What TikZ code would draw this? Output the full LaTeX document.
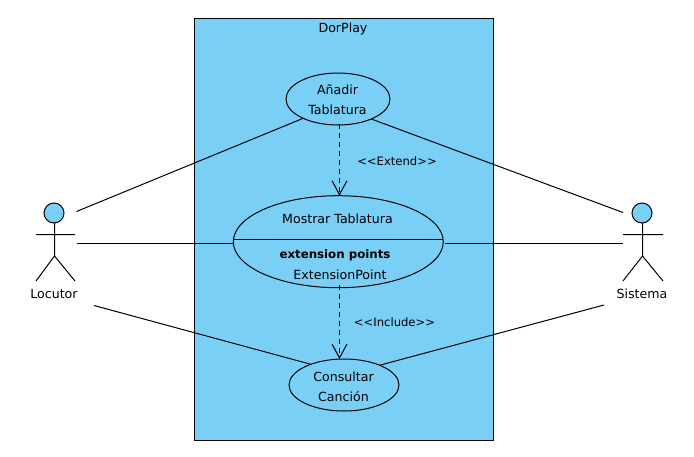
\documentclass[tikz,border=0pt]{standalone}
\usepackage{fontspec}
\setmainfont{DejaVu Sans}
\usetikzlibrary{shapes.geometric,arrows.meta}
\definecolor{ucblue}{RGB}{122,207,247}
\tikzset{
  canvas/.style={x=1pt,y=-1pt},
  sysbox/.style={draw=black,fill=ucblue,line width=1pt},
  usecase/.style={ellipse,draw=black,line width=1pt,inner sep=0pt,outer sep=0pt,align=center,font=\fontsize{12.6}{20}\selectfont},
  lbl/.style={inner sep=0pt,outer sep=0pt,align=center,font=\fontsize{12.6}{20}\selectfont},
  stereo/.style={inner sep=0pt,outer sep=0pt,font=\fontsize{11.6}{20}\selectfont},
  assoc/.style={draw=black,line width=1pt},
  dep/.style={draw=black,line width=1.2pt,dash pattern=on 5pt off 4pt,-{Straight Barb[length=14pt,width=15pt,line width=1pt]}},
  limb/.style={draw=black,line width=1pt},
  head/.style={circle,draw=black,fill=ucblue,line width=1pt,minimum size=20pt,inner sep=0pt,outer sep=0pt}
}
\begin{document}
\begin{tikzpicture}[canvas]
\useasboundingbox (0,0) rectangle (694,456);
\fill[white] (0,0) rectangle (694,456);
\node[sysbox,rectangle,minimum width=299pt,minimum height=422pt,inner sep=0pt,outer sep=0pt] (sys) at (344,229.5) {};
\node[lbl] (sysname) at (343,29.5) {DorPlay};
% use cases
\node[usecase,minimum width=104pt,minimum height=52pt] (uc1) at (338,99) {};
\node[lbl] (uc1t) at (337.5,100) {Añadir\\Tablatura};
\node[usecase,minimum width=210pt,minimum height=92pt] (uc2) at (338.3,241.7) {};
\node[usecase,minimum width=110pt,minimum height=52pt] (uc3) at (344,385) {};
\node[lbl] (uc3t) at (343.5,386.5) {Consultar\\Canción};
\draw[limb] ([yshift=2.2pt]uc2.west) -- ([yshift=2.2pt]uc2.east);
\node[lbl] (uc2a) at (337.5,218.5) {Mostrar Tablatura};
\node[lbl,font=\fontsize{11.8}{20}\selectfont\bfseries] (uc2b) at (335,255.5) {extension points};
\node[lbl] (uc2c) at (340,274.5) {ExtensionPoint};
% actors
\node[head] (h1) at (54,213) {};
\coordinate (hip1) at (54.5,256);
\coordinate (arml1) at (36,234.5);
\coordinate (armr1) at (75,234.5);
\coordinate (legl1) at (36,281);
\coordinate (legr1) at (75,281);
\draw[limb] (h1.south -| hip1) -- (hip1) (arml1) -- (armr1) (legl1) -- (hip1) -- (legr1);
\node[lbl] (locutor) at (54,293.5) {Locutor};
\node[head] (h2) at (642,213) {};
\coordinate (hip2) at (642.5,256);
\coordinate (arml2) at (623,234.5);
\coordinate (armr2) at (663,234.5);
\coordinate (legl2) at (623,281);
\coordinate (legr2) at (663,281);
\draw[limb] (h2.south -| hip2) -- (hip2) (arml2) -- (armr2) (legl2) -- (hip2) -- (legr2);
\node[lbl] (sistema) at (642,293.5) {Sistema};
% free connector ends
\coordinate (a1) at (76.5,211.5);
\coordinate (a2) at (76.5,243.5);
\coordinate (a3) at (94,305.5);
\coordinate (b1) at (623,212.5);
\coordinate (b2) at (623,243.5);
\coordinate (b3) at (604,305);
\coordinate (g2l) at (233.5,243.5);
\coordinate (g2r) at (445,243.5);
% associations
\draw[assoc] (a1) -- (uc1.209.7);
\draw[assoc] (a2) -- (g2l);
\draw[assoc] (a3) -- (uc3.148);
\draw[assoc] (b1) -- (uc1.329.3);
\draw[assoc] (b2) -- (g2r);
\draw[assoc] (b3) -- (uc3.29);
% dependencies
\draw[dep] ([xshift=1.5pt,yshift=1pt]uc1.south) -- ([xshift=1.2pt]uc2.north);
\draw[dep] ([xshift=1.2pt,yshift=2.5pt]uc2.south) -- ([xshift=-4.5pt]uc3.north);
\node[stereo] (ext) at (397,161.5) {<{}<Extend>{}>};
\node[stereo] (inc) at (394.5,322.5) {<{}<Include>{}>};
\end{tikzpicture}
\end{document}
